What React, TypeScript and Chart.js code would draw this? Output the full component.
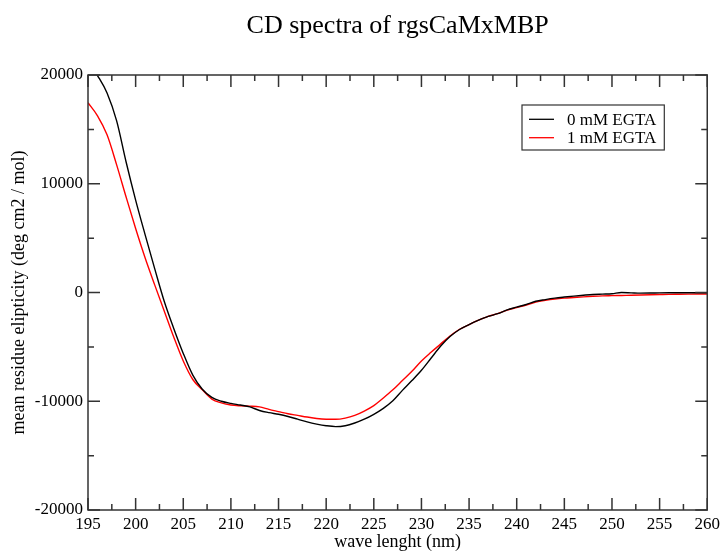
import React, { useEffect, useRef } from "react";
import { Chart, registerables } from "chart.js";

Chart.register(...registerables);

const titleText = "CD spectra of rgsCaMxMBP";
const xAxisTitle = "wave lenght (nm)";
const yAxisTitle = "mean residue elipticity (deg cm2 / mol)";
const seriesLabels = ["0 mM EGTA", "1 mM EGTA"];
const seriesColors = ["#000000", "#ff0000"];

const wavelengths = [
  195, 196, 197, 198, 199, 200, 201, 202, 203, 204,
  205, 206, 207, 208, 209, 210, 211, 212, 213, 214,
  215, 216, 217, 218, 219, 220, 221, 222, 223, 224,
  225, 226, 227, 228, 229, 230, 231, 232, 233, 234,
  235, 236, 237, 238, 239, 240, 241, 242, 243, 244,
  245, 246, 247, 248, 249, 250, 251, 252, 253, 254,
  255, 256, 257, 258, 259, 260,
];

const egta0 = [
  21300, 19950, 18350, 15800, 12000, 8500, 5300, 2200, -800, -3300,
  -5600, -7600, -8900, -9650, -10000, -10200, -10350, -10520, -10850, -11050,
  -11200, -11400, -11650, -11900, -12100, -12250, -12330, -12250, -12000, -11650,
  -11200, -10650, -9950, -9000, -8100, -7150, -6050, -4950, -4050, -3400,
  -2950, -2550, -2200, -1950, -1600, -1350, -1100, -800, -650, -520,
  -420, -330, -250, -180, -150, -120, 0, -30, -60, -50,
  -30, -20, -20, -20, -20, -30,
];

const egta1 = [
  17450, 16250, 14500, 11760, 8780, 5880, 3170, 700, -1700, -4100,
  -6300, -8000, -8950, -9800, -10150, -10350, -10420, -10450, -10520, -10750,
  -10950, -11150, -11300, -11450, -11580, -11650, -11660, -11550, -11300, -10900,
  -10400, -9700, -8950, -8100, -7250, -6300, -5500, -4750, -4000, -3380,
  -2950, -2550, -2200, -1950, -1620, -1380, -1150, -880, -720, -600,
  -520, -460, -400, -350, -310, -290, -270, -250, -230, -210,
  -190, -170, -160, -150, -140, -140,
];

const xMin = 195;
const xMax = 260;
const xStep = 5;
const yMin = -20000;
const yMax = 20000;
const yStep = 10000;

const FONT = "'Liberation Serif', 'DejaVu Serif', serif";
const FRAME = "#333333";

const framePlugin = {
  id: "frameTicks",
  afterDatasetsDraw(chart: any) {
    const { ctx, chartArea } = chart;
    const xs = chart.scales.x;
    const ys = chart.scales.y;
    const { left, right, top, bottom } = chartArea;
    ctx.save();
    ctx.strokeStyle = FRAME;
    ctx.lineWidth = 1.5;
    ctx.strokeRect(left, top, right - left, bottom - top);
    const major = 12;
    const minor = 6;
    ctx.beginPath();
    const xt = xs.ticks.map((t: any) => t.value);
    xt.forEach((v: number, i: number) => {
      const px = xs.getPixelForValue(v);
      ctx.moveTo(px, bottom);
      ctx.lineTo(px, bottom - major);
      ctx.moveTo(px, top);
      ctx.lineTo(px, top + major);
      if (i < xt.length - 1) {
        const m = xs.getPixelForValue((v + xt[i + 1]) / 2);
        ctx.moveTo(m, bottom);
        ctx.lineTo(m, bottom - minor);
        ctx.moveTo(m, top);
        ctx.lineTo(m, top + minor);
      }
    });
    const yt = ys.ticks.map((t: any) => t.value);
    yt.forEach((v: number, i: number) => {
      const py = ys.getPixelForValue(v);
      ctx.moveTo(left, py);
      ctx.lineTo(left + major, py);
      ctx.moveTo(right, py);
      ctx.lineTo(right - major, py);
      if (i < yt.length - 1) {
        const m = ys.getPixelForValue((v + yt[i + 1]) / 2);
        ctx.moveTo(left, m);
        ctx.lineTo(left + minor, m);
        ctx.moveTo(right, m);
        ctx.lineTo(right - minor, m);
      }
    });
    ctx.stroke();
    ctx.restore();
  },
};

const legendPlugin = {
  id: "boxLegend",
  afterDraw(chart: any) {
    const { ctx, chartArea } = chart;
    const ds = chart.data.datasets;
    ctx.save();
    ctx.font = `17px ${FONT}`;
    let maxW = 0;
    ds.forEach((d: any) => {
      maxW = Math.max(maxW, ctx.measureText(d.label).width);
    });
    const bx = chartArea.left + 434;
    const by = chartArea.top + 30;
    const textX = bx + 45;
    const bw = 45 + maxW + 8;
    const bh = 45;
    ctx.fillStyle = "#ffffff";
    ctx.fillRect(bx, by, bw, bh);
    ctx.strokeStyle = FRAME;
    ctx.lineWidth = 1.2;
    ctx.strokeRect(bx, by, bw, bh);
    ds.forEach((d: any, i: number) => {
      const ly = by + 14.3 + i * 18.4;
      ctx.strokeStyle = d.borderColor;
      ctx.lineWidth = 1.3;
      ctx.beginPath();
      ctx.moveTo(bx + 7, ly);
      ctx.lineTo(bx + 32, ly);
      ctx.stroke();
      ctx.fillStyle = "#000000";
      ctx.textBaseline = "middle";
      ctx.textAlign = "left";
      ctx.fillText(d.label, textX, ly + 1);
    });
    ctx.restore();
  },
};

export default function App() {
  const ref = useRef<HTMLCanvasElement | null>(null);
  useEffect(() => {
    if (!ref.current) return;
    Chart.defaults.font.family = FONT;
    const datasets = [egta0, egta1].map((vals, i) => ({
      label: seriesLabels[i],
      data: wavelengths.map((w, j) => ({ x: w, y: vals[j] })),
      borderColor: seriesColors[i],
      backgroundColor: seriesColors[i],
      borderWidth: 1.4,
      pointRadius: 0,
      fill: false,
      cubicInterpolationMode: "monotone" as const,
    }));
    const chart = new Chart(ref.current, {
      type: "line",
      data: { datasets },
      options: {
        animation: false,
        responsive: false,
        maintainAspectRatio: false,
        layout: { padding: { left: 0, right: 15, top: 0, bottom: 0 } },
        plugins: {
          legend: { display: false },
          tooltip: { enabled: false },
          title: {
            display: true,
            text: titleText,
            fullSize: false,
            color: "#000000",
            font: { size: 26, weight: "normal", family: FONT },
            padding: { top: 11, bottom: 32.8 },
          },
        },
        scales: {
          x: {
            type: "linear",
            min: xMin,
            max: xMax,
            border: { display: false },
            grid: { display: false, drawTicks: false },
            ticks: {
              stepSize: xStep,
              color: "#000000",
              font: { size: 17, family: FONT },
              padding: 4,
              maxRotation: 0,
              callback: (v: any) => String(v),
            },
            title: {
              display: true,
              text: xAxisTitle,
              color: "#000000",
              font: { size: 18, family: FONT },
              padding: { top: 0, bottom: -2 },
            },
            afterFit: (s: any) => {
              s.height = 41;
            },
          },
          y: {
            type: "linear",
            min: yMin,
            max: yMax,
            border: { display: false },
            grid: { display: false, drawTicks: false },
            ticks: {
              stepSize: yStep,
              color: "#000000",
              font: { size: 17, family: FONT },
              padding: 5,
              callback: (v: any) => String(v),
            },
            title: {
              display: true,
              text: yAxisTitle,
              color: "#000000",
              font: { size: 18, family: FONT },
              padding: { top: 8, bottom: 0 },
            },
            afterFit: (s: any) => {
              s.width = 88;
            },
          },
        },
      },
      plugins: [framePlugin, legendPlugin],
    });
    return () => chart.destroy();
  }, []);
  return (
    <div style={{ position: "absolute", left: 0, top: 0, width: 724, height: 551, background: "#ffffff" }}>
      <canvas ref={ref} width={724} height={551} style={{ display: "block" }} />
    </div>
  );
}
